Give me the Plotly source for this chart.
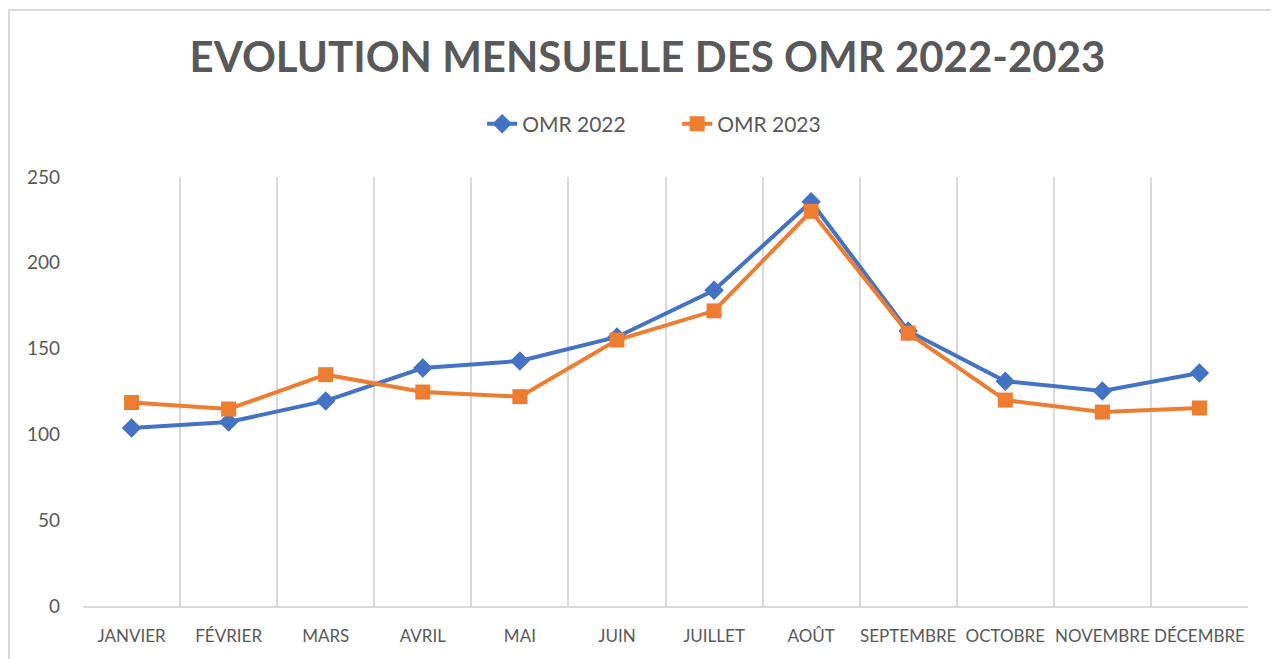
import plotly.graph_objects as go

months = ["JANVIER", "FÉVRIER", "MARS", "AVRIL", "MAI", "JUIN", "JUILLET",
          "AOÛT", "SEPTEMBRE", "OCTOBRE", "NOVEMBRE", "DÉCEMBRE"]
omr_2022 = [103.7, 107.2, 119.5, 138.7, 142.8, 156.8, 184.0, 235.6, 160.3, 131.0, 125.3, 135.8]
omr_2023 = [118.6, 114.8, 134.8, 124.7, 122.0, 155.0, 172.0, 230.0, 159.0, 120.0, 113.0, 115.4]
y_ticks = [0, 50, 100, 150, 200, 250]

x = list(range(len(months)))
bounds = [i - 0.5 for i in range(len(months) + 1)]

fig = go.Figure()
fig.add_trace(go.Scatter(
    x=x, y=omr_2022, name="OMR 2022", mode="lines+markers",
    line=dict(color="#4472C4", width=4),
    marker=dict(symbol="diamond", size=15, color="#4472C4"),
))
fig.add_trace(go.Scatter(
    x=x, y=omr_2023, name="OMR 2023", mode="lines+markers",
    line=dict(color="#ED7D31", width=4),
    marker=dict(symbol="square", size=15, color="#ED7D31"),
))

L, R, T, B = 75, 39, 169, 61
W, H = 1279, 659
pw, ph = W - L - R, H - T - B

fig.update_layout(
    width=W, height=H,
    margin=dict(l=L, r=R, t=T, b=B, autoexpand=False),
    paper_bgcolor="white", plot_bgcolor="white",
    font=dict(family="Lato, Open Sans, sans-serif", color="#595959"),
    title=dict(text="<b>EVOLUTION MENSUELLE DES OMR 2022-2023</b>",
               x=0.5, xanchor="center", y=1 - 49 / H, yanchor="middle",
               font=dict(size=42, color="#595959")),
    legend=dict(orientation="h", x=0.51, xanchor="center", y=1 + (T - 116) / ph, yanchor="middle",
                font=dict(size=21, color="#595959"), entrywidth=150, entrywidthmode="pixels"),
    showlegend=True,
    shapes=[dict(type="rect", xref="paper", yref="paper",
                 x0=(-L + 1) / pw, x1=1.2, y0=-0.3, y1=1 + (T - 2) / ph,
                 line=dict(color="#D9D9D9", width=2), layer="below")],
)

fig.update_xaxes(
    range=[-0.5, len(months) - 0.5],
    tickvals=x, ticktext=months, ticks="", tickangle=0, automargin=False,
    tickfont=dict(size=17, color="#595959"),
    ticklabelstandoff=14,
    showgrid=False, zeroline=False,
    showline=True, linecolor="#D9D9D9", linewidth=2,
    minor=dict(tickvals=bounds, showgrid=True, gridcolor="#D9D9D9", gridwidth=2, ticks=""),
)
fig.update_yaxes(
    range=[0, 250], tickvals=y_ticks, ticks="", automargin=False,
    tickfont=dict(size=19, color="#595959"),
    ticklabelstandoff=22,
    showgrid=False, zeroline=False, showline=False,
)

fig.write_html("out.html")
